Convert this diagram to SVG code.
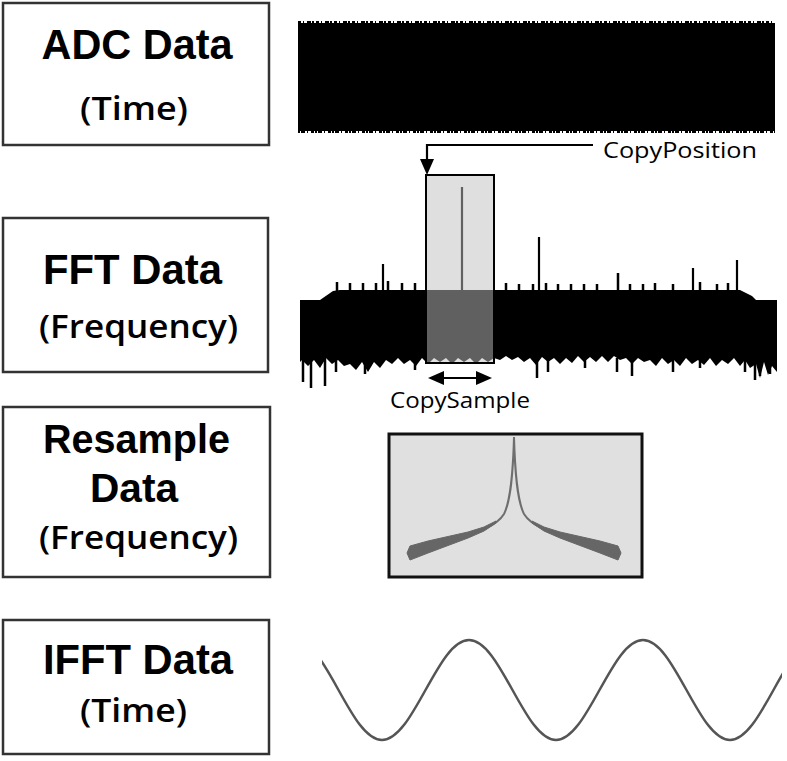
<svg xmlns="http://www.w3.org/2000/svg" width="787" height="761" viewBox="0 0 787 761">
<style>
.box{fill:#fff;stroke:#333;stroke-width:2.5}
.t{font-family:"Liberation Sans","Open Sans",sans-serif;font-weight:700;font-size:43px;fill:#000;text-anchor:middle}
.t2{font-family:"Liberation Sans","Open Sans",sans-serif;font-weight:700;font-size:41px;fill:#000;text-anchor:middle}
.s{font-family:"Open Sans","Liberation Sans",sans-serif;font-weight:600;font-size:32px;fill:#000;text-anchor:middle}
.lbl{font-family:"Open Sans","Liberation Sans",sans-serif;font-size:21px;fill:#000}
.conn{fill:none;stroke:#000;stroke-width:2.2}
.head{fill:#000}
.bump{stroke:#000;stroke-width:2.5}
</style>
<defs>
<clipPath id="sineclip"><rect x="322" y="600" width="460" height="160"/></clipPath>
</defs>
<rect width="787" height="761" fill="#fff"/>

<g id="node-adc">
<rect class="box" x="3" y="3" width="266" height="142"/>
<text class="t" x="137" y="59" textLength="191" lengthAdjust="spacingAndGlyphs">ADC Data</text>
<text class="s" x="134" y="120" textLength="108" lengthAdjust="spacingAndGlyphs">(Time)</text>
</g>
<g id="node-fft">
<rect class="box" x="3" y="218" width="265" height="154"/>
<text class="t" x="132.5" y="284" textLength="179" lengthAdjust="spacingAndGlyphs">FFT Data</text>
<text class="s" x="138.5" y="338" textLength="199" lengthAdjust="spacingAndGlyphs">(Frequency)</text>
</g>
<g id="node-resample">
<rect class="box" x="3" y="407" width="267" height="170"/>
<text class="t2" x="136.5" y="453" textLength="187" lengthAdjust="spacingAndGlyphs">Resample</text>
<text class="t2" x="134" y="502" textLength="88" lengthAdjust="spacingAndGlyphs">Data</text>
<text class="s" x="138.5" y="549" textLength="199" lengthAdjust="spacingAndGlyphs">(Frequency)</text>
</g>
<g id="node-ifft">
<rect class="box" x="3" y="620" width="266" height="134"/>
<text class="t" x="138" y="674" textLength="190" lengthAdjust="spacingAndGlyphs">IFFT Data</text>
<text class="s" x="133.5" y="722" textLength="107" lengthAdjust="spacingAndGlyphs">(Time)</text>
</g>

<g id="plot-adc">
<rect x="298" y="23" width="477" height="108" fill="#000"/>
<line x1="298" y1="22" x2="775" y2="22" stroke="#000" stroke-width="2" stroke-dasharray="3 2 1 3 4 1 2 2"/>
<line x1="298" y1="132" x2="775" y2="132" stroke="#000" stroke-width="2" stroke-dasharray="2 1 4 2 1 3 3 1"/>
</g>

<g id="plot-fft">
<path d="M300,300 L320,300 L333,291 L340,290 L740,290 L752,296 L756,300 L777,300 L777,372 L772,366 L768,375 L764,362 L760,378 L756,364 L750,368 L745,360 L740,366 L734,358 L728,364 L722,360 L716,366 L710,358 L704,365 L698,360 L692,364 L686,358 L680,366 L674,360 L668,364 L662,358 L656,366 L650,360 L644,362 L638,358 L632,364 L626,358 L620,360 L614,356 L608,362 L602,356 L596,362 L590,357 L584,362 L578,356 L572,363 L566,358 L560,364 L554,358 L548,362 L542,357 L536,365 L530,358 L524,362 L518,357 L512,360 L506,356 L500,360 L494,358 L488,362 L482,358 L476,364 L470,358 L464,362 L458,358 L452,364 L446,358 L440,362 L434,358 L428,364 L422,358 L416,366 L410,360 L404,364 L398,358 L392,364 L386,360 L380,368 L374,362 L368,372 L362,362 L356,370 L350,364 L344,366 L338,360 L332,364 L326,358 L320,368 L314,360 L308,366 L302,360 L300,362 Z" fill="#000"/>
<path class="bump" d="M303,358V382 M311,358V388 M325,358V386 M336,358V372 M365,358V374 M415,358V370 M537,358V378 M548,358V372 M585,358V368 M617,358V372 M632,358V376 M673,358V372 M700,358V368 M745,358V372 M755,358V380 M760,358V376 M770,358V374"/>
<path class="bump" d="M337,292V282 M350,292V283 M363,292V283 M376,292V283 M388,292V281 M402,292V283 M415,292V283 M506,292V283 M519,292V284 M533,292V284 M546,292V283 M558,292V284 M571,292V284 M584,292V284 M597,292V284 M618,292V273 M630,292V284 M643,292V284 M655,292V283 M673,292V284 M700,292V282 M717,292V284 M728,292V283"/>
<path d="M383,292V264 M462,292V187 M539,292V237 M693,292V268 M737,292V260" stroke="#000" stroke-width="2.2"/>
</g>

<g id="highlight">
<rect x="426" y="175" width="68" height="188" fill="#c0c0c0" fill-opacity="0.5" stroke="#000" stroke-width="2"/>
</g>

<g id="plot-resample">
<rect x="389" y="434" width="253" height="143" fill="#e0e0e0" stroke="#111" stroke-width="3"/>
<path d="M514,437 C515,472 517,500 524,514 C532,527 550,532 580,541 C597,546 607,549 618,553 M514,437 C513,472 511,500 504,514 C496,527 478,532 448,541 C431,546 421,549 410,553" fill="none" stroke="#6e6e6e" stroke-width="2"/>
<path d="M532,521 L544,527 L560,532 L580,536.5 L600,541 L618,546 L621,553 L618,560 L600,553 L580,545.5 L560,538 L544,531 L532,523 Z" fill="#666" stroke="#666" stroke-width="1" stroke-linejoin="round"/>
<path d="M496,521 L484,527 L468,532 L448,536.5 L428,541 L410,546 L407,553 L410,560 L428,553 L448,545.5 L468,538 L484,531 L496,523 Z" fill="#666" stroke="#666" stroke-width="1" stroke-linejoin="round"/>
</g>

<g id="plot-ifft">
<path clip-path="url(#sineclip)" d="M295,640 C310.75,640 324.31,664.4 338.5,690 C352.69,715.6 366.25,740 382,740 C397.75,740 411.31,715.6 425.5,690 C439.69,664.4 453.25,640 469,640 C484.75,640 498.31,664.4 512.5,690 C526.69,715.6 540.25,740 556,740 C571.75,740 585.31,715.6 599.5,690 C613.69,664.4 627.25,640 643,640 C658.75,640 672.31,664.4 686.5,690 C700.69,715.6 714.25,740 730,740 C745.75,740 759.31,715.6 773.5,690 C787.69,664.4 801.25,640 817,640" fill="none" stroke="#555" stroke-width="2.5"/>
</g>

<g id="connectors">
<path class="conn" d="M593,145 H427 V161"/>
<path class="head" d="M420,159 L434,159 L427,175 Z"/>
<line class="conn" x1="442" y1="378" x2="478" y2="378"/>
<path class="head" d="M428,378 L444,371 L444,385 Z"/>
<path class="head" d="M492,378 L476,371 L476,385 Z"/>
</g>

<g id="labels">
<text class="lbl" x="603" y="158" textLength="154" lengthAdjust="spacingAndGlyphs">CopyPosition</text>
<text class="lbl" x="390" y="408" textLength="140" lengthAdjust="spacingAndGlyphs">CopySample</text>
</g>
</svg>
